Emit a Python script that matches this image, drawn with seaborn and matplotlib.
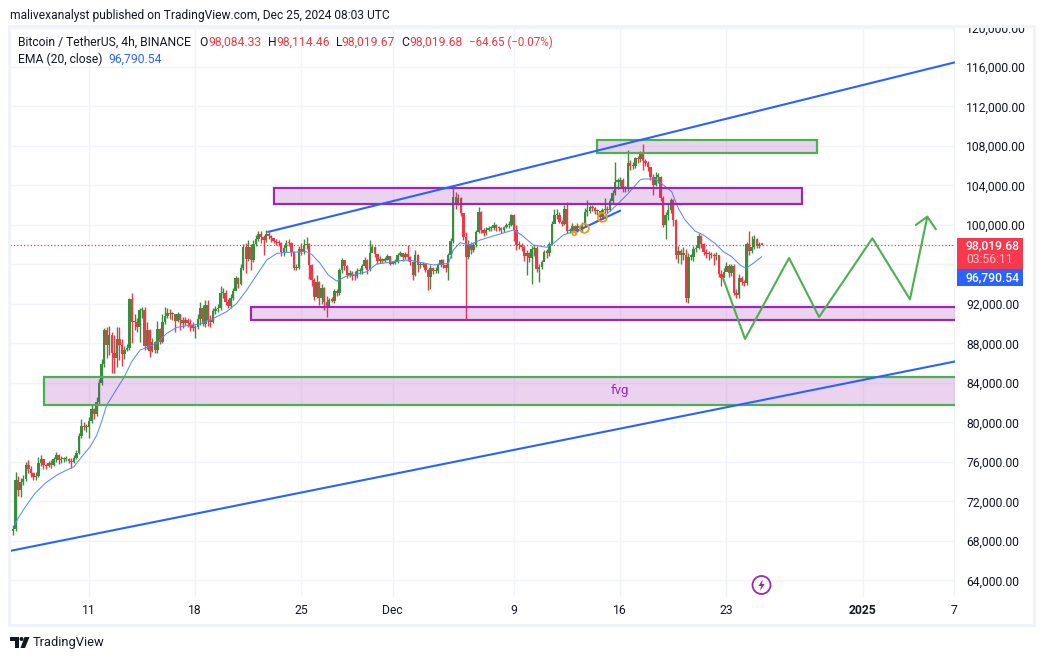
import numpy as np
import pandas as pd
import matplotlib
matplotlib.use("Agg")
import matplotlib.pyplot as plt
import matplotlib.dates as mdates
from matplotlib.patches import Rectangle, Circle, Polygon
from matplotlib.transforms import Affine2D
import seaborn as sns

W, H = 1044, 660
DIR_BASE = pd.Timestamp("2024-11-11")

# candles, 4h bars, prices in thousands
first_open = 69.0
close = [
    69.2, 74.2, 73.2, 74.0, 74.3, 75.7, 75.3, 74.9, 74.5, 74.6,
    75.9, 76.3, 75.7, 75.6, 75.9, 75.7, 76.3, 76.7, 76.2, 76.3,
    76.3, 76.3, 76.1, 76.0, 76.4, 76.9, 78.6, 79.6, 79.5, 79.5,
    80.2, 81.4, 80.9, 82.1, 84.0, 85.9, 89.4, 87.8, 88.85, 87.0,
    86.5, 88.5, 87.8, 86.9, 87.3, 87.5, 92.5, 90.2, 90.2, 89.7,
    91.4, 91.4, 87.7, 89.4, 87.2, 88.1, 87.3, 89.5, 88.2, 90.2,
    90.8, 91.05, 90.95, 90.95, 90.3, 90.95, 90.4, 90.05, 90.4, 90.05,
    89.9, 89.6, 89.7, 90.45, 91.55, 90.0, 91.9, 90.4, 90.2, 91.3,
    91.45, 91.55, 93.1, 93.15, 92.2, 91.8, 92.6, 93.35, 94.6, 94.0,
    95.6, 97.8, 96.6, 97.8, 96.5, 98.1, 98.6, 99.1, 98.8, 98.5,
    99.1, 98.9, 98.65, 98.4, 98.3, 98.2, 97.3, 97.65, 98.2, 98.15,
    97.3, 95.65, 95.65, 97.6, 97.3, 98.0, 98.05, 95.9, 94.4, 92.7,
    94.25, 92.6, 93.6, 92.2, 91.55, 92.4, 92.35, 93.35, 93.1, 95.4,
    96.45, 95.8, 94.9, 95.1, 94.9, 94.8, 95.3, 95.3, 95.8, 96.45,
    95.4, 97.2, 97.8, 97.1, 96.4, 96.6, 96.4, 96.5, 96.85, 96.1,
    96.2, 96.3, 97.0, 97.15, 96.8, 97.05, 96.8, 96.3, 94.9, 97.0,
    95.95, 95.95, 96.05, 95.45, 94.75, 95.6, 95.3, 95.3, 95.95, 96.45,
    95.95, 95.6, 96.95, 98.4, 102.85, 102.1, 102.7, 101.2, 98.8, 96.8,
    98.1, 97.45, 98.0, 99.3, 101.35, 99.5, 99.15, 99.5, 99.65, 99.65,
    100.0, 99.65, 99.7, 99.5, 99.75, 100.0, 100.0, 101.0, 99.5, 98.0,
    98.0, 97.8, 96.85, 97.2, 96.7, 97.55, 97.7, 95.5, 95.75, 96.3,
    97.3, 97.2, 98.1, 100.15, 101.0, 101.0, 100.35, 100.15, 101.6, 99.4,
    99.4, 99.85, 99.4, 99.9, 99.65, 100.0, 101.35, 101.4, 101.85, 101.7,
    101.4, 101.4, 100.8, 101.5, 101.6, 101.5, 102.45, 103.2, 104.4, 104.4,
    104.55, 103.6, 103.6, 106.25, 106.0, 106.0, 106.75, 106.65, 107.3, 106.5,
    106.3, 105.9, 104.9, 104.0, 104.9, 104.9, 102.7, 100.0, 101.0, 101.5,
    102.5, 100.5, 97.0, 97.4, 97.0, 97.0, 92.6, 96.8, 96.8, 97.6,
    97.7, 98.9, 98.1, 97.3, 97.05, 97.05, 96.95, 96.85, 96.95, 95.0,
    94.6, 95.25, 95.85, 95.1, 95.85, 93.1, 92.9, 94.65, 94.2, 94.1,
    98.1, 97.4, 97.8, 98.55, 97.9, 98.08, 98.02,
]
high = [
    69.6, 75.0, 74.6, 74.4, 74.7, 76.0, 76.2, 75.6, 75.0, 75.0,
    76.5, 76.7, 76.2, 75.8, 76.1, 76.2, 76.5, 77.0, 76.8, 76.6,
    76.5, 76.6, 76.4, 76.4, 76.7, 77.2, 78.9, 80.4, 80.0, 79.8,
    80.6, 81.8, 81.5, 82.6, 84.4, 86.4, 89.6, 89.7, 89.8, 89.2,
    88.9, 89.7, 89.7, 88.5, 87.7, 87.9, 92.6, 93.1, 91.0, 90.6,
    91.6, 91.7, 91.65, 90.2, 89.5, 88.6, 88.3, 90.3, 89.6, 91.0,
    91.7, 91.6, 91.5, 91.2, 91.0, 91.2, 91.0, 90.7, 90.7, 90.6,
    90.5, 90.2, 89.9, 91.0, 92.2, 91.9, 92.4, 92.4, 90.9, 91.6,
    91.8, 92.0, 93.8, 93.6, 93.4, 92.5, 93.0, 93.6, 94.8, 94.7,
    96.0, 98.1, 98.2, 98.5, 98.1, 98.5, 99.0, 99.4, 99.4, 99.0,
    99.5, 99.3, 99.0, 98.7, 98.6, 98.5, 98.3, 98.0, 98.5, 98.6,
    98.3, 97.4, 96.0, 97.9, 98.2, 98.6, 98.8, 98.2, 96.0, 94.6,
    94.9, 94.3, 94.0, 93.7, 92.8, 92.6, 92.7, 93.5, 93.5, 95.6,
    96.7, 96.5, 95.9, 95.4, 95.3, 95.3, 95.6, 95.6, 96.0, 96.8,
    96.6, 98.5, 98.1, 97.9, 96.9, 96.9, 96.7, 96.8, 97.1, 96.9,
    96.4, 96.6, 97.2, 97.4, 97.2, 97.3, 98.0, 96.9, 96.4, 97.5,
    97.1, 96.3, 96.3, 96.1, 95.5, 95.9, 95.7, 95.7, 96.2, 96.6,
    96.6, 96.1, 97.2, 98.7, 103.9, 103.3, 103.1, 102.8, 101.2, 99.3,
    98.5, 98.3, 98.3, 99.5, 101.8, 101.4, 99.7, 99.8, 99.9, 99.9,
    100.3, 100.1, 99.9, 99.8, 99.9, 100.2, 100.4, 101.1, 101.1, 100.0,
    98.4, 98.2, 97.9, 97.5, 97.3, 97.9, 98.0, 97.9, 96.0, 96.5,
    97.5, 97.6, 98.3, 100.4, 101.6, 101.6, 101.3, 100.5, 102.0, 102.35,
    99.7, 100.2, 100.0, 100.2, 100.0, 100.3, 101.7, 102.5, 102.0, 102.0,
    101.8, 101.6, 101.4, 101.7, 102.7, 101.9, 102.7, 103.5, 106.4, 104.8,
    104.9, 104.8, 103.9, 107.6, 106.6, 106.4, 106.9, 107.0, 107.5, 108.2,
    106.7, 106.5, 105.9, 105.2, 105.4, 105.3, 105.0, 102.9, 101.3, 102.1,
    102.7, 102.6, 100.6, 97.9, 97.6, 97.8, 97.6, 97.2, 97.1, 97.9,
    98.0, 99.2, 99.0, 98.2, 97.6, 97.4, 97.3, 97.2, 97.3, 97.0,
    95.4, 95.6, 96.3, 96.0, 96.1, 96.0, 93.5, 95.0, 94.8, 94.4,
    98.3, 99.4, 98.9, 99.0, 98.7, 98.3, 98.11,
]
low = [
    68.6, 69.0, 72.6, 72.5, 73.7, 74.1, 74.9, 74.5, 74.2, 74.2,
    74.5, 75.6, 75.3, 75.3, 75.5, 75.4, 75.6, 76.0, 75.8, 75.9,
    76.0, 76.1, 75.9, 75.4, 75.9, 76.3, 76.8, 78.4, 79.2, 79.0,
    78.4, 79.9, 80.4, 80.7, 81.9, 83.8, 85.6, 86.5, 86.8, 85.0,
    85.0, 85.6, 86.3, 85.7, 86.4, 87.2, 87.3, 88.0, 89.4, 89.2,
    88.1, 90.6, 87.3, 87.4, 86.6, 87.1, 87.0, 87.0, 87.9, 88.0,
    90.0, 90.6, 90.5, 90.4, 89.2, 90.2, 89.4, 89.6, 89.9, 89.7,
    89.3, 89.3, 88.6, 89.5, 89.9, 89.8, 89.7, 89.8, 89.7, 90.1,
    91.0, 91.2, 91.4, 92.6, 91.9, 91.6, 91.6, 92.4, 93.4, 93.6,
    93.9, 95.4, 95.1, 96.4, 95.4, 96.3, 97.9, 98.4, 98.2, 97.0,
    98.3, 98.6, 98.3, 98.2, 98.0, 97.9, 96.9, 96.9, 97.3, 97.9,
    96.9, 95.4, 95.4, 95.5, 97.0, 97.1, 97.6, 94.5, 93.8, 92.4,
    92.6, 91.9, 92.0, 91.4, 90.7, 91.7, 92.2, 92.1, 92.8, 92.9,
    95.1, 95.4, 94.6, 94.7, 94.4, 94.4, 94.6, 95.0, 95.0, 95.6,
    95.0, 95.3, 97.3, 96.8, 96.1, 96.2, 96.2, 96.3, 96.5, 95.9,
    96.0, 96.1, 96.2, 96.9, 96.4, 96.6, 96.4, 95.9, 94.4, 94.8,
    95.2, 95.6, 95.7, 95.2, 93.4, 93.5, 95.0, 95.1, 95.1, 95.7,
    95.6, 95.2, 94.4, 96.7, 98.2, 101.6, 102.0, 100.9, 98.5, 90.45,
    96.6, 97.1, 97.3, 97.8, 99.2, 99.2, 98.9, 99.0, 99.4, 99.4,
    99.5, 99.4, 99.4, 99.2, 99.3, 99.7, 99.7, 99.9, 98.4, 97.5,
    97.6, 97.4, 96.4, 94.9, 96.3, 94.0, 96.9, 95.2, 94.2, 95.5,
    96.6, 96.7, 96.9, 98.0, 100.6, 100.6, 100.2, 99.9, 100.0, 99.2,
    99.2, 99.2, 99.2, 99.3, 99.5, 99.3, 99.8, 100.9, 101.2, 101.4,
    101.1, 101.0, 100.5, 100.6, 101.2, 101.2, 101.4, 102.2, 103.0, 103.6,
    103.9, 103.3, 103.3, 103.4, 105.6, 105.7, 105.8, 106.3, 106.4, 105.6,
    106.0, 105.5, 104.6, 103.0, 103.9, 104.3, 102.4, 99.8, 98.6, 100.5,
    101.2, 99.9, 96.6, 96.2, 96.0, 96.5, 92.2, 92.1, 96.5, 96.4,
    97.3, 97.6, 97.7, 97.0, 96.7, 96.5, 96.7, 95.9, 96.5, 94.7,
    93.8, 94.7, 95.4, 94.7, 94.8, 92.9, 92.6, 92.6, 93.9, 93.8,
    93.9, 97.0, 97.2, 97.6, 97.7, 97.7, 98.02,
]

# EMA line, x is days after 11 Nov
ema_days = [
    -4.92, -4.55, -4.11, -3.56, -2.90, -2.13, -1.47, -0.99, -0.48, 0.07,
    0.51, 0.79, 1.17, 1.71, 2.31, 2.81, 3.36, 3.91, 4.46, 5.12,
    5.78, 6.44, 7.31, 8.19, 9.07, 9.73, 10.39, 11.05, 11.71, 12.37,
    13.03, 13.69, 14.23, 14.68, 15.23, 15.77, 16.32, 16.98, 17.42, 18.30,
    18.96, 19.62, 20.49, 21.15, 21.81, 22.69, 23.68, 24.01, 24.45, 25.11,
    25.77, 27.08, 27.96, 28.51, 29.28, 30.16, 30.60, 31.26, 32.03, 32.80,
    33.89, 34.77, 35.54, 36.31, 36.53, 37.30, 37.85, 38.40, 38.83, 39.28,
    39.93, 40.48, 41.25, 41.80, 42.35, 42.90, 43.29, 43.77, 44.33,
]
ema_price = [
    69.61, 70.62, 71.64, 72.82, 73.83, 74.67, 75.18, 75.52, 76.53, 77.54,
    78.72, 79.91, 81.76, 83.11, 84.57, 86.15, 87.33, 87.67, 88.01, 89.02,
    89.63, 89.80, 89.97, 90.54, 91.22, 92.06, 93.41, 94.93, 96.45, 97.12,
    97.23, 97.26, 97.36, 97.02, 96.11, 94.93, 94.32, 94.83, 94.93, 95.27,
    96.05, 96.18, 96.39, 96.45, 96.22, 95.95, 96.12, 97.47, 98.21, 97.97,
    98.48, 99.09, 99.49, 98.99, 97.97, 97.74, 98.14, 98.99, 99.39, 99.83,
    100.77, 102.02, 103.21, 104.56, 104.66, 104.66, 104.05, 103.37, 101.69, 100.5,
    99.39, 98.99, 98.14, 97.3, 96.79, 95.95, 95.61, 96.12, 96.79,
]

# drawings on the chart
upper_days, upper_price = [11.80, 57.13], [99.3, 116.5]
lower_days, lower_price = [-5.21, 57.13], [66.99, 86.2]
short_days, short_price = [32.03, 35.0], [99.3, 101.45]
zigzag_days = [41.78, 43.23, 46.13, 48.11, 51.62, 54.10, 55.24]
zigzag_price = [94.63, 88.46, 96.66, 90.68, 98.65, 92.47, 100.84]
head_days = [54.48, 55.24, 55.81]
head_price = [100.0, 100.84, 99.56]
ring_days = [31.98, 32.64, 33.83]
ring_price = [99.15, 99.66, 100.77]
ring_size = [8, 42, 42]
# left, right, bottom, top
zones = [
    (33.48, 47.97, 107.24, 108.61, "#4caf50"),
    (12.19, 46.98, 102.13, 103.75, "#9c27b0"),
    (10.68, 57.6, 90.38, 91.73, "#9c27b0"),
    (-2.97, 57.6, 81.77, 84.64, "#4caf50"),
]

y_ticks = list(range(64, 121, 4))
x_tick_days = [0, 7, 14, 20, 28, 35, 42, 51, 57]
x_tick_labels = ["11", "18", "25", "Dec", "9", "16", "23", "2025", "7"]
last_price = 98.01968
ema_last = 96.79054

RED = "#f23645"
GREEN = "#388e3c"
BLUE = "#2962ff"
INK = "#131722"
GRID = "#f0f3fa"


def days(values):
    return DIR_BASE + pd.to_timedelta(values, unit="D")


sns.set_theme(style="white")
plt.rcParams["font.family"] = ["Roboto", "DejaVu Sans"]

bars = pd.DataFrame({"close": close, "high": high, "low": low})
bars["time"] = pd.date_range("2024-11-06", periods=len(bars), freq="4h")
bars["open"] = [first_open] + close[:-1]
bars["up"] = bars["close"] >= bars["open"]
bars["color"] = np.where(bars["up"], GREEN, RED)

fig = plt.figure(figsize=(W / 100, H / 100), dpi=100, facecolor="white")
ax = fig.add_axes([10 / W, 1 - 597 / H, 945 / W, 570 / H])

# pixel coordinates for the page furniture
px = Affine2D().scale(1 / W, -1 / H).translate(0, 1) + fig.transFigure

# candles
ax.vlines(bars["time"], bars["low"], bars["high"], colors=bars["color"], lw=1.0, zorder=2)
ax.bar(
    bars["time"],
    (bars["close"] - bars["open"]).abs().clip(lower=0.12),
    bottom=bars[["open", "close"]].min(axis=1),
    width=0.16,
    color=bars["color"],
    lw=0,
    zorder=3,
)

ax.axhline(last_price, color=RED, lw=0.9, ls=(0, (1, 1.7)), zorder=2)

ema = pd.DataFrame({"time": days(ema_days), "price": ema_price})
sns.lineplot(data=ema, x="time", y="price", ax=ax, color="#5a88ff", lw=0.75, sort=False,
             estimator=None, zorder=4)

for left, right, bottom, top, edge in zones:
    x0 = mdates.date2num(days(left))
    x1 = mdates.date2num(days(right))
    ax.add_patch(Rectangle((x0, bottom), x1 - x0, top - bottom, facecolor="#9c27b0", alpha=0.2,
                           lw=0, zorder=5))
    ax.add_patch(Rectangle((x0, bottom), x1 - x0, top - bottom, fill=False, edgecolor=edge,
                           lw=1.6, zorder=5))

for xs, ys in [(upper_days, upper_price), (lower_days, lower_price), (short_days, short_price)]:
    line = pd.DataFrame({"time": days(xs), "price": ys})
    sns.lineplot(data=line, x="time", y="price", ax=ax, color=BLUE, lw=1.5, sort=False,
                 estimator=None, zorder=6)

for xs, ys in [(zigzag_days, zigzag_price), (head_days, head_price)]:
    line = pd.DataFrame({"time": days(xs), "price": ys})
    sns.lineplot(data=line, x="time", y="price", ax=ax, color="#4caf50", lw=1.5, sort=False,
                 estimator=None, zorder=6)

ax.scatter(days(ring_days), ring_price, s=ring_size, facecolors="none", edgecolors="#ff9800",
           linewidths=1.3, zorder=7)
ax.text(days(35.0), 83.2, "fvg", color="#9c27b0", fontsize=9.5, ha="center", va="center", zorder=8)

base = mdates.date2num(DIR_BASE)
ax.set_xlim(base - 5.206, base + 57.066)
ax.set_ylim(120 - (597 - 27.5) * 0.10127, 120 + 0.5 * 0.10127)

ax.set_xticks(days(x_tick_days))
ax.set_xticklabels(x_tick_labels)
ax.set_yticks(y_ticks)
ax.set_yticklabels(["" if v == 96 else f"{v * 1000:,.2f}" for v in y_ticks])
ax.yaxis.tick_right()
ax.tick_params(axis="y", length=0, pad=8, labelsize=8.7, labelcolor=INK)
ax.tick_params(axis="x", length=0, pad=5, labelsize=8.7, labelcolor=INK)
ax.get_xticklabels()[7].set_fontweight("bold")
ax.grid(True, color=GRID, lw=1)
ax.set_axisbelow(True)
ax.set_xlabel("")
ax.set_ylabel("")
for side in ax.spines.values():
    side.set_visible(False)

# top tick label is cut by the frame in the original
clip = Rectangle((956, 27), 80, 570, transform=px)
for lbl in ax.get_yticklabels():
    lbl.set_clip_path(clip)

# outer frame
fig.add_artist(Rectangle((9, 26), 1025, 599, transform=px, fill=False, edgecolor=GRID, lw=2.2))

fig.text(10 / W, 1 - 15 / H, "malivexanalyst published on TradingView.com, Dec 25, 2024 08:03 UTC",
         fontsize=8.65, color=INK, va="center")


def head_text(x, y, s, color=INK, size=8.7, **kw):
    fig.text(x / W, 1 - y / H, s, color=color, fontsize=size, va="center", **kw)


head_text(18, 42, "Bitcoin / TetherUS, 4h, BINANCE")
for x, s, col in [
    (199.3, "O", INK), (208, "98,084.33", RED),
    (267.7, "H", INK), (276, "98,114.46", RED),
    (336, "L", INK), (341.7, "98,019.67", RED),
    (401.7, "C", INK), (409, "98,019.68", RED),
]:
    head_text(x, 42, s, col)
head_text(469.3, 42, "\u221264.65 (\u22120.07%)", RED, size=8.3)
head_text(18, 59, "EMA (20, close)")
head_text(108, 59, "96,790.54", BLUE)

# price labels on the scale
fig.add_artist(Rectangle((957, 238), 66, 31, transform=px, facecolor="#f7394d", lw=0))
fig.add_artist(Rectangle((957, 269), 66, 17, transform=px, facecolor=BLUE, lw=0))
head_text(966, 245.5, "98,019.68", "white", fontweight="medium")
head_text(966, 259.5, "03:56:11", "#fbc0c6")
head_text(966, 277.5, "96,790.54", "white", fontweight="medium")

# bolt marker
fig.add_artist(Circle((761.5, 585), 9, transform=px, facecolor="white", edgecolor="#9c27b0", lw=1.3))
fig.add_artist(Polygon([(763, 579), (758.5, 586), (761.2, 586), (760, 591), (764.7, 584),
                        (761.8, 584)], transform=px, facecolor="#9c27b0", lw=0))

# footer logo
fig.add_artist(Polygon([(10, 637), (19, 637), (19, 648), (15, 648), (15, 641), (10, 641)],
                       transform=px, facecolor=INK, lw=0))
fig.add_artist(Circle((21.5, 639), 2, transform=px, facecolor=INK, lw=0))
fig.add_artist(Polygon([(24.5, 637), (29.5, 637), (25, 648), (20.5, 648)],
                       transform=px, facecolor=INK, lw=0))
fig.text(33 / W, 1 - 642.5 / H, "TradingView", fontsize=9.3, color=INK, va="center")

plt.savefig("out.png", dpi=100)
